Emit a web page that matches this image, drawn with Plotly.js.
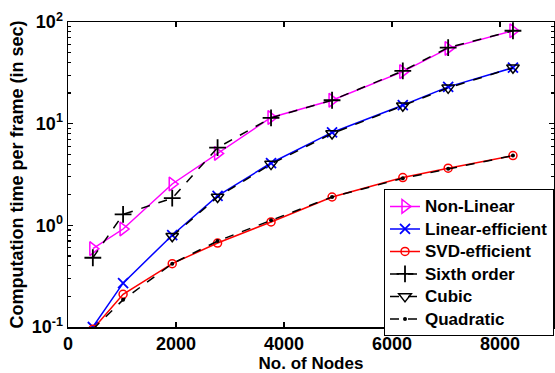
<!DOCTYPE html>
<html>
<head>
<meta charset="utf-8">
<script src="https://cdn.plot.ly/plotly-3.0.1.min.js"></script>
<style>html,body{margin:0;padding:0;background:#fff;}#chart{width:555px;height:373px;}</style>
</head>
<body>
<div id="chart"></div>
<script>
// Data
const nodes = [460, 1020, 1930, 2770, 3760, 4890, 6200, 7040, 8240];
const cubicNodes = [1930, 2770, 3760, 4890, 6200, 7040, 8240];

const nonLinear        = [0.59, 0.92, 2.55, 5.1, 11.5, 17.0, 32.5, 55, 82];
const linearEfficient  = [0.10, 0.27, 0.80, 1.95, 4.1, 8.2, 15.2, 23, 35.5];
const svdEfficient     = [0.095, 0.21, 0.42, 0.67, 1.08, 1.9, 2.95, 3.65, 4.85];
const sixthOrder       = [0.48, 1.28, 1.85, 5.8, 11.4, 17.0, 33, 56, 82];
const cubic            = [0.78, 1.9, 4.0, 8.0, 15.0, 22.5, 35.5];
const quadratic        = [0.095, 0.185, 0.42, 0.70, 1.12, 1.9, 2.9, 3.6, 4.85];

const seriesNames = ['Non-Linear', 'Linear-efficient', 'SVD-efficient', 'Sixth order', 'Cubic', 'Quadratic'];

const xTickVals = [0, 2000, 4000, 6000, 8000];
const xTickText = ['0', '2000', '4000', '6000', '8000'];
const yTickVals = [0.1, 1, 10, 100];
const yTickText = ['10<sup>-1</sup>', '10<sup>0</sup>', '10<sup>1</sup>', '10<sup>2</sup>'];

const yMinor = [];
[0.1, 1, 10].forEach(d => { for (let k = 2; k <= 9; k++) yMinor.push(+(d * k).toPrecision(3)); });

const legName = n => '<span style="font-size:17px">' + n + '</span>';

const traces = [
  {x: nodes, y: nonLinear, name: legName(seriesNames[0]), mode: 'lines+markers',
   line: {color: '#ff00ff', width: 1.5},
   marker: {symbol: 'triangle-right-open', size: 12, color: '#ff00ff', line: {width: 1.5, color: '#ff00ff'}}},
  {x: nodes, y: linearEfficient, name: legName(seriesNames[1]), mode: 'lines+markers',
   line: {color: '#0000ff', width: 1.5},
   marker: {symbol: 'x-thin-open', size: 10, color: '#0000ff', line: {width: 1.8, color: '#0000ff'}}},
  {x: nodes, y: svdEfficient, name: legName(seriesNames[2]), mode: 'lines+markers',
   line: {color: '#ff0000', width: 1.5},
   marker: {symbol: 'circle-open', size: 8, color: '#ff0000', line: {width: 1.5, color: '#ff0000'}}},
  {x: nodes, y: sixthOrder, name: legName(seriesNames[3]), mode: 'lines+markers',
   line: {color: '#000000', width: 1.5, dash: 'dash'},
   marker: {symbol: 'cross-thin-open', size: 12, color: '#000000', line: {width: 1.8, color: '#000000'}}},
  {x: cubicNodes, y: cubic, name: legName(seriesNames[4]), mode: 'lines+markers',
   line: {color: '#000000', width: 1.5, dash: 'dash'},
   marker: {symbol: 'triangle-down-open', size: 11, color: '#000000', line: {width: 1.5, color: '#000000'}}},
  {x: nodes, y: quadratic, name: legName(seriesNames[5]), mode: 'lines+markers',
   line: {color: '#000000', width: 1.5, dash: 'dash'},
   marker: {symbol: 'circle', size: 4, color: '#000000'}}
];

const layout = {
  width: 555, height: 373,
  margin: {l: 68, r: 1, t: 22, b: 46},
  paper_bgcolor: '#fff', plot_bgcolor: '#fff',
  font: {family: 'Liberation Sans, Arial, sans-serif', size: 16, color: '#000', weight: 'bold'},
  showlegend: true,
  legend: {x: 1, xanchor: 'right', y: 0.452, yanchor: 'top', bordercolor: '#000', borderwidth: 1,
           bgcolor: '#fff', font: {size: 15}, tracegroupgap: 0, itemwidth: 30},
  xaxis: {
    range: [0, 9000], tickmode: 'array', tickvals: xTickVals, ticktext: xTickText,
    ticks: 'inside', ticklen: 5, tickwidth: 1.2, tickcolor: '#000',
    showline: true, linecolor: '#000', linewidth: 1.5, mirror: 'ticks',
    showgrid: false, zeroline: false, tickfont: {size: 18},
    title: {text: 'No. of Nodes', font: {size: 17}, standoff: 2}
  },
  yaxis: {
    type: 'log', range: [-1, 2], tickmode: 'array', tickvals: yTickVals, ticktext: yTickText,
    ticks: 'inside', ticklen: 5, tickwidth: 1.2, tickcolor: '#000',
    minor: {tickmode: 'array', tickvals: yMinor, ticks: 'inside', ticklen: 3, tickcolor: '#000', showgrid: false},
    showline: true, linecolor: '#000', linewidth: 1.5, mirror: 'ticks',
    showgrid: false, zeroline: false, tickfont: {size: 18},
    title: {text: 'Computation time per frame (in sec)', font: {size: 18}, standoff: 3}
  }
};

Plotly.newPlot('chart', traces, layout, {displayModeBar: false, staticPlot: true});
</script>
</body>
</html>
